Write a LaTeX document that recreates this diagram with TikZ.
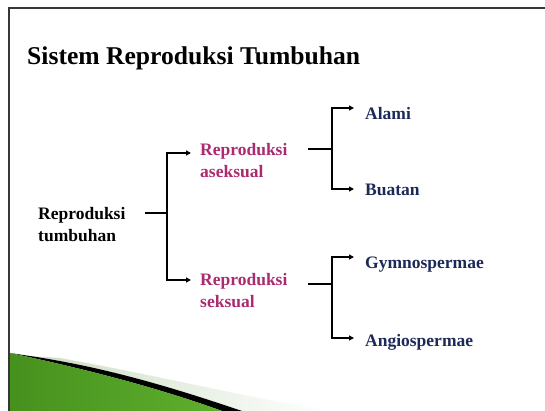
\documentclass[tikz,border=0pt]{standalone}
\usepackage{fontspec}
\setmainfont{Liberation Serif}
\usetikzlibrary{arrows.meta}
\definecolor{frame}{RGB}{55,55,55}
\definecolor{rose}{RGB}{172,42,112}
\definecolor{navy}{RGB}{28,42,88}
\definecolor{leafdark}{RGB}{70,145,30}
\definecolor{leaflight}{RGB}{140,212,80}
\definecolor{leafmid}{RGB}{95,175,45}
\definecolor{haze}{RGB}{205,222,195}
\tikzset{
  lbl/.style={anchor=north west, inner sep=0pt, align=left,
              font=\fontsize{17.5}{22}\selectfont\bfseries},
  rootlbl/.style={lbl, text=black},
  midlbl/.style={lbl, text=rose},
  leaflbl/.style={lbl, text=navy},
  link/.style={line width=1.4pt, black},
  arr/.style={link, -{Triangle[length=5pt,width=5pt]}},
}
\begin{document}
\begin{tikzpicture}[x=1pt, y=-1pt]
\useasboundingbox (0,0) rectangle (545,411);
\clip (0,0) rectangle (545,411);
\fill[white] (0,0) rectangle (545,411);

% corner ribbon
\shade[left color=haze, right color=white]
  (60,358) .. controls (160,376) and (240,396) .. (330,411)
  -- (240,411) .. controls (180,390) and (110,368) .. (30,356) -- cycle;
\fill[black]
  (30,356) .. controls (110,368) and (180,390) .. (242,411)
  -- (222,411) .. controls (170,392) and (100,372) .. (10,353) -- cycle;
\shade[left color=leafdark, middle color=leaflight, right color=leafmid]
  (10,353) .. controls (100,372) and (170,392) .. (222,411)
  -- (10,411) -- cycle;

% slide frame
\draw[frame, line width=1.6pt] (9,430) -- (9,8) -- (560,8);

% title
\node[anchor=base west, inner sep=0pt,
      font=\fontsize{25.6}{30}\selectfont\bfseries] (title) at (27,65)
  {Sistem Reproduksi Tumbuhan};

% labels
\node[rootlbl] (root) at (38,207) {Reproduksi\\tumbuhan};
\node[midlbl] (ase) at (200,143) {Reproduksi\\aseksual};
\node[midlbl] (sek) at (200,273) {Reproduksi\\seksual};
\node[leaflbl] (alami) at (365,107) {Alami};
\node[leaflbl] (buatan) at (365,184) {Buatan};
\node[leaflbl] (gymno) at (365,257) {Gymnospermae};
\node[leaflbl] (angio) at (365,334) {Angiospermae};

% first split
\coordinate (r0) at (145,213);
\coordinate (r1) at (167,213);
\draw[link] (r0) -- (r1);
\draw[arr] (r1) |- ([xshift=-9pt,yshift=-10pt]ase.north west);
\draw[arr] (r1) |- ([xshift=-9pt,yshift=-7pt]sek.north west);

% asexual split
\coordinate (a0) at (308,149);
\coordinate (a1) at (332,149);
\draw[link] (a0) -- (a1);
\draw[arr] (a1) |- ([xshift=-11pt,yshift=-1pt]alami.north west);
\draw[arr] (a1) |- ([xshift=-11pt,yshift=-5pt]buatan.north west);

% sexual split
\coordinate (s0) at (308,284);
\coordinate (s1) at (332,284);
\draw[link] (s0) -- (s1);
\draw[arr] (s1) |- ([xshift=-11pt,yshift=0pt]gymno.north west);
\draw[arr] (s1) |- ([xshift=-11pt,yshift=-4pt]angio.north west);
\end{tikzpicture}
\end{document}
